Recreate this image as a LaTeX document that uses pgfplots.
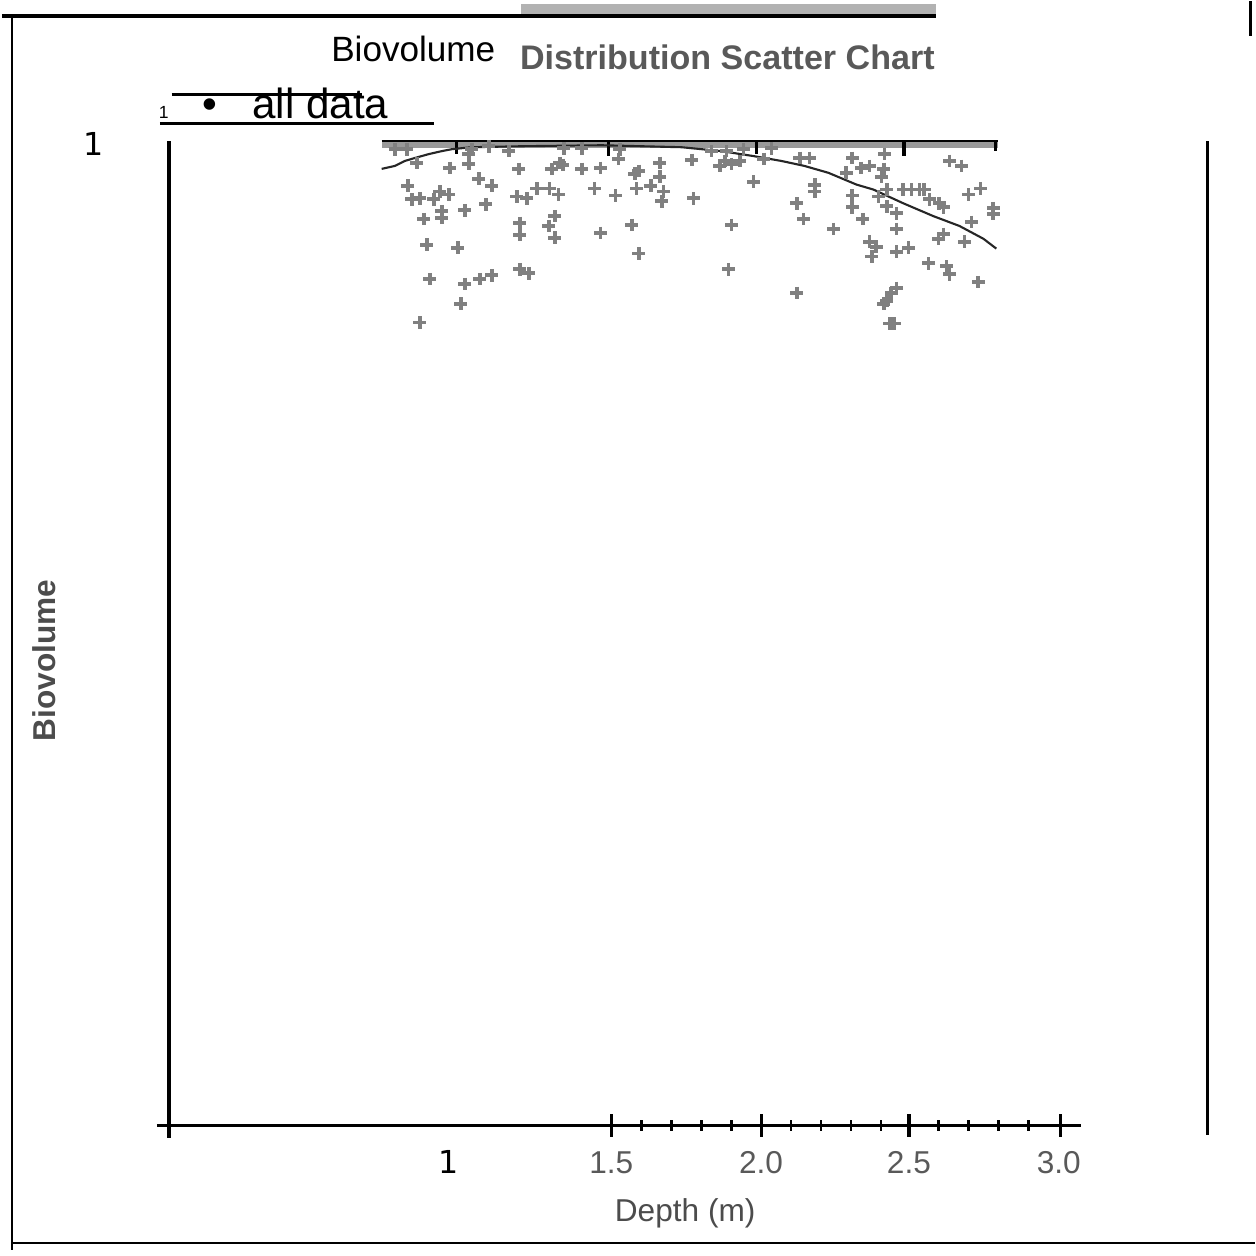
\documentclass[border=0pt]{standalone}
\usepackage{pgfplots}
\pgfplotsset{compat=1.18}
\usepackage{pgfplotstable}
\usepackage{fontspec}
\setmainfont{Liberation Sans}
\newfontfamily\dejavu{DejaVu Sans}

% depth (m) vs biovolume
\pgfplotstableread{
depth bio
0.850 0.978
0.960 0.973
1.023 0.987
1.023 0.977
1.057 0.962
1.100 0.955
1.190 0.972
1.157 0.990
0.820 0.955
0.833 0.941
0.860 0.942
0.907 0.941
0.927 0.949
0.957 0.946
0.933 0.929
0.933 0.922
1.010 0.930
1.080 0.936
1.183 0.944
1.217 0.942
0.873 0.921
1.193 0.917
1.193 0.905
0.883 0.895
0.987 0.892
1.193 0.870
1.223 0.866
0.893 0.860
1.010 0.855
1.060 0.860
1.100 0.864
0.997 0.835
0.860 0.816
0.777 0.992
0.817 0.992
1.033 0.992
1.090 0.995
1.327 0.978
1.300 0.972
1.337 0.976
1.400 0.972
1.463 0.973
1.250 0.952
1.293 0.952
1.323 0.946
1.443 0.952
1.513 0.945
1.583 0.952
1.577 0.967
1.590 0.970
1.630 0.955
1.660 0.978
1.660 0.964
1.673 0.949
1.667 0.939
1.527 0.992
1.523 0.982
1.340 0.993
1.400 0.993
1.310 0.924
1.290 0.914
1.310 0.902
1.463 0.907
1.567 0.915
1.590 0.886
1.767 0.981
1.833 0.990
1.877 0.980
1.900 0.977
1.927 0.980
1.860 0.975
1.883 0.990
1.940 0.992
2.033 0.993
2.007 0.982
1.973 0.959
1.773 0.942
1.900 0.915
1.890 0.870
2.117 0.937
2.140 0.921
2.177 0.956
2.177 0.949
2.240 0.911
2.117 0.846
2.127 0.983
2.160 0.983
2.303 0.983
2.333 0.973
2.360 0.975
2.407 0.972
2.410 0.987
2.400 0.964
2.283 0.968
2.303 0.945
2.303 0.933
2.337 0.921
2.390 0.944
2.417 0.951
2.417 0.934
2.450 0.927
2.473 0.951
2.500 0.951
2.527 0.951
2.543 0.951
2.560 0.941
2.593 0.937
2.607 0.933
2.627 0.980
2.667 0.975
2.690 0.946
2.730 0.952
2.773 0.932
2.773 0.926
2.700 0.918
2.450 0.911
2.360 0.898
2.383 0.893
2.367 0.883
2.450 0.888
2.490 0.892
2.590 0.901
2.607 0.906
2.677 0.898
2.557 0.876
2.617 0.873
2.627 0.865
2.723 0.857
2.433 0.846
2.450 0.851
2.417 0.838
2.407 0.835
2.427 0.815
2.443 0.815
}\alldata

% fitted trend
\pgfplotstableread{
depth bio
0.733 0.972
0.777 0.975
0.810 0.980
0.843 0.983
0.890 0.987
0.933 0.990
0.967 0.992
1.033 0.994
1.200 0.995
1.467 0.996
1.733 0.994
1.867 0.990
1.973 0.985
2.067 0.980
2.143 0.975
2.223 0.968
2.317 0.956
2.373 0.951
2.473 0.937
2.573 0.924
2.660 0.914
2.740 0.901
2.783 0.891
}\trend

\begin{document}
\begin{tikzpicture}
\begin{scope}[x=0.01cm,y=-0.01cm]
\path (0,0) rectangle (1254,1256);
% strip along the top of the data
\fill[black!40] (380,139) rectangle (997,147);
\draw[line width=0.7pt] (380,140) -- (997,140);
\foreach \x/\l in {455/153,607/155,755/153,903/155,995/150}
  \draw[line width=0.9pt] (\x,140) -- (\x,\l);
\end{scope}

\begin{axis}[
    at={(1.67cm,-11.25cm)}, anchor=south west,
    scale only axis,
    width=10.4cm, height=9.85cm,
    xmin=0.0233, xmax=3.49,
    ymin=0, ymax=1,
    axis lines=none,
    clip=false
]
\addplot[only marks, mark=+, mark size=1.8pt, black!50,
    mark options={line width=1.1pt}] table[x=depth,y=bio] {\alldata};
\addplot[black!85, line width=0.6pt, no marks] table[x=depth,y=bio] {\trend};
\end{axis}

\begin{scope}[x=0.01cm,y=-0.01cm]
% frame
\fill[black!30] (520,3) rectangle (935,13);
\draw[line width=1.1pt] (0,15) -- (935,15);
\draw[line width=0.8pt] (10,15) -- (10,1250);
\draw[line width=0.8pt] (10,1243) -- (1254,1243);
\draw[line width=0.8pt] (1250,0) -- (1250,35);
\draw[line width=0.8pt] (1207,140) -- (1207,1135);

% axes
\draw[line width=1pt] (167,140) -- (167,1125);
\draw[line width=0.8pt] (155,1125) -- (1080,1125);
\draw[line width=1pt] (167,1108) -- (167,1138);
\foreach \x in {610,760,908,1060}
  \draw[line width=0.9pt] (\x,1114) -- (\x,1137);
\foreach \x in {640,670,700,730,790,820,850,880,938,968,998,1028}
  \draw[line width=0.8pt] (\x,1120) -- (\x,1131);

\foreach \x/\t in {610/1.5,760/2.0,908/2.5,1058/3.0}
  \node[black!65, font=\fontsize{9}{10}\selectfont] at (\x,1163) {\t};
\node[font=\dejavu\fontsize{9}{10}\selectfont] at (447,1162) {1};
\node[font=\dejavu\fontsize{9}{10}\selectfont] at (92,143) {1};
\node[black!70, font=\fontsize{9}{10}\selectfont] at (684,1213) {Depth (m)};
\node[black!70, rotate=90, font=\bfseries\fontsize{9}{10}\selectfont] at (42,660) {Biovolume};

% title
\node[anchor=base west, inner sep=0pt, font=\fontsize{10}{12}\selectfont] at (329,60) {Biovolume};
\node[anchor=base west, inner sep=0pt, black!65, font=\bfseries\fontsize{9.7}{12}\selectfont] at (518,68) {Distribution Scatter Chart};

% legend
\draw[line width=0.9pt] (170,93) -- (360,93);
\draw[line width=0.9pt] (158,122) -- (433,122);
\node[font=\fontsize{5}{6}\selectfont] at (162,111) {1};
\node[font=\fontsize{12}{14}\selectfont] at (208,107) {•};
\node[anchor=base west, inner sep=0pt, font=\fontsize{12}{14}\selectfont] at (250,117) {all data};
\end{scope}
\end{tikzpicture}
\end{document}
